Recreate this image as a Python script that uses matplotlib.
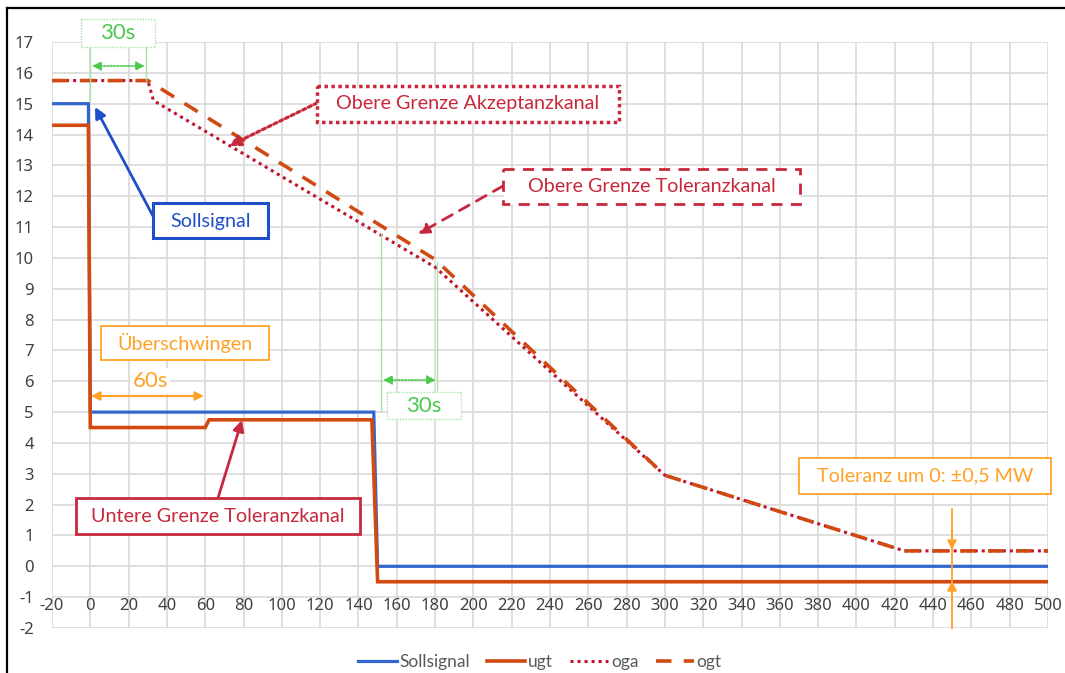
import matplotlib
matplotlib.use('Agg')
import matplotlib.pyplot as plt
from matplotlib.transforms import Affine2D
from matplotlib.patches import Rectangle
from matplotlib.lines import Line2D

W, H = 1065, 673

# ---------------- data ----------------
x_ticks = list(range(-20, 501, 20))
y_ticks = list(range(-2, 18))
series_names = ['Sollsignal', 'ugt', 'oga', 'ogt']
soll_x = [-20, -1, 0, 148, 150, 500]
soll_y = [15, 15, 5, 5, 0, 0]
ugt_x = [-20, -1, 0, 60, 62, 147, 150, 500]
ugt_y = [14.3, 14.3, 4.5, 4.5, 4.75, 4.75, -0.5, -0.5]
oga_x = [-20, 30, 33, 180, 300, 425, 500]
oga_y = [15.75, 15.75, 15.1, 9.7, 2.95, 0.5, 0.5]
ogt_x = [-20, 30, 180, 300, 425, 500]
ogt_y = [15.75, 15.75, 9.95, 2.95, 0.5, 0.5]

# ---------------- styles ----------------
plt.rcParams['font.family'] = ['Lato', 'DejaVu Sans']
BLUE = '#3366CC'
ORANGE_RED = '#D04A12'
DARK_RED = '#C0142C'
CRIMSON = '#C8283C'
ANN_BLUE = '#1F4FC8'
ORANGE = '#FFA126'
GREEN = '#4CC94C'
LGREEN = '#A8E2A8'
GRID = '#D9D9D9'
TICK = '#404040'
ANN_SIZE = 14.2

fig = plt.figure(figsize=(W / 100, H / 100), dpi=100)
ax = fig.add_axes([52 / W, 45 / H, 996 / W, 586 / H])
ax.set_xlim(x_ticks[0], x_ticks[-1])
ax.set_ylim(y_ticks[0], y_ticks[-1])
ax.set_xticks(x_ticks)
ax.set_yticks(y_ticks)
ax.set_xticklabels([])
ax.set_yticklabels([str(v) for v in y_ticks], fontsize=12, color=TICK,
                   family=['Noto Sans', 'DejaVu Sans'])
ax.tick_params(length=0, axis='y', pad=13)
ax.tick_params(length=0, axis='x')
ax.grid(True, color=GRID, lw=1.2)
ax.set_axisbelow(True)
for s in ax.spines.values():
    s.set_visible(False)

for xv in x_ticks:
    ax.text(xv, -1.3, str(xv), ha='center', va='center', fontsize=12,
            color=TICK, family=['Noto Sans', 'DejaVu Sans'])

l1, = ax.plot(soll_x, soll_y, color=BLUE, lw=2.3, solid_joinstyle='miter')
l2, = ax.plot(ugt_x, ugt_y, color=ORANGE_RED, lw=2.6, solid_joinstyle='miter')
l3, = ax.plot(oga_x, oga_y, color=DARK_RED, lw=2.2, ls=(0, (1, 1.3)))
l4, = ax.plot(ogt_x, ogt_y, color=ORANGE_RED, lw=2.6, ls=(0, (4.3, 3.4)))

fig.legend([l1, l2, l3, l4], series_names, loc='center',
           bbox_to_anchor=(540 / W, 1 - 662 / H), ncol=4, frameon=False,
           handlelength=2.2, handletextpad=0.15, columnspacing=1.0,
           fontsize=12.5, labelcolor='#595959')

# pixel transform (origin top-left)
T = Affine2D().scale(1 / W, -1 / H).translate(0, 1) + fig.transFigure


def box(x0, y0, x1, y1, ec, lw=1.5, ls='-'):
    fig.patches.append(Rectangle((x0, y0), x1 - x0, y1 - y0, transform=T,
                                 fill=True, fc='white', ec=ec, lw=lw, ls=ls,
                                 zorder=5))


def label(x, y, s, color, size=ANN_SIZE):
    fig.text(x, y, s, transform=T, ha='center', va='center', color=color,
             fontsize=size, zorder=6)


def arrow(x0, y0, x1, y1, color, lw=1.8, ls='-', style='-|>', ms=16):
    ax.annotate('', xy=(x1, y1), xycoords=T, xytext=(x0, y0), textcoords=T,
                arrowprops=dict(arrowstyle=style, color=color, lw=lw, ls=ls,
                                mutation_scale=ms, shrinkA=0, shrinkB=0),
                zorder=6, annotation_clip=False)


def vline(x, y0, y1, color, lw=1.0):
    fig.lines.append(Line2D([x, x], [y0, y1], transform=T, color=color, lw=lw,
                            zorder=4))


# figure frame
fig.lines.append(Line2D([7, 7], [8, H], transform=T, color='black', lw=1.6))
fig.lines.append(Line2D([7, W], [8, 8], transform=T, color='black', lw=1.6))

# blue Sollsignal
arrow(153, 216, 95, 107, ANN_BLUE, lw=2.0)
box(153, 203, 268, 238, ANN_BLUE, lw=2.2)
label(210.5, 221, 'Sollsignal', ANN_BLUE)

# Akzeptanzkanal
arrow(317, 103, 229, 146, CRIMSON, lw=2.3, ls=(0, (1, 1)))
box(317, 86, 619, 122, CRIMSON, lw=2.5, ls=(0, (1, 1)))
label(468, 104, 'Obere Grenze Akzeptanzkanal', CRIMSON)

# Toleranzkanal oben
arrow(503, 186, 418, 234, CRIMSON, lw=2.0, ls=(0, (4, 3)))
box(503, 169, 800, 204, CRIMSON, lw=2.0, ls=(0, (4, 3)))
label(651.5, 187, 'Obere Grenze Toleranzkanal', CRIMSON)

# Untere
arrow(218, 498, 242, 420, CRIMSON, lw=2.0)
box(76, 498, 360, 534, CRIMSON, lw=2.0)
label(218, 516, 'Untere Grenze Toleranzkanal', CRIMSON)

# Überschwingen
box(101, 326, 269, 360, ORANGE, lw=1.3)
label(185, 343, 'Überschwingen', ORANGE)
arrow(91, 396, 204, 396, ORANGE, lw=1.5, style='<|-|>', ms=13)
fig.text(150, 381, '60s', transform=T, ha='center', va='center', color=ORANGE,
         fontsize=16, zorder=6,
         bbox=dict(fc='white', ec='none', pad=2))

# Toleranz um 0
box(799, 458, 1051, 494, ORANGE, lw=1.3)
label(925, 476, 'Toleranz um 0: ±0,5 MW', ORANGE)
vline(952, 509, 628, ORANGE, lw=1.3)
arrow(952, 530, 952, 550, ORANGE, lw=1.3, ms=14)
arrow(952, 600, 952, 581, ORANGE, lw=1.3, ms=14)

# green 30s (top)
vline(90, 47, 100, LGREEN, lw=1.0)
vline(146, 47, 80, LGREEN, lw=1.0)
arrow(92, 66, 145, 66, GREEN, lw=1.2, ls=(0, (1, 1)), style='<|-|>', ms=13)
box(81, 19, 155, 47, LGREEN, lw=1.0, ls=(0, (1, 1)))
label(118, 33, '30s', GREEN, size=16)

# green 30s (lower)
vline(381, 234, 410, LGREEN, lw=1.0)
vline(437, 262, 390, LGREEN, lw=1.0)
arrow(383, 380, 436, 380, GREEN, lw=1.2, ls=(0, (1, 1)), style='<|-|>', ms=13)
box(387, 392, 461, 419, LGREEN, lw=1.0, ls=(0, (1, 1)))
label(424, 406, '30s', GREEN, size=16)

fig.savefig('out.png', dpi=100)
